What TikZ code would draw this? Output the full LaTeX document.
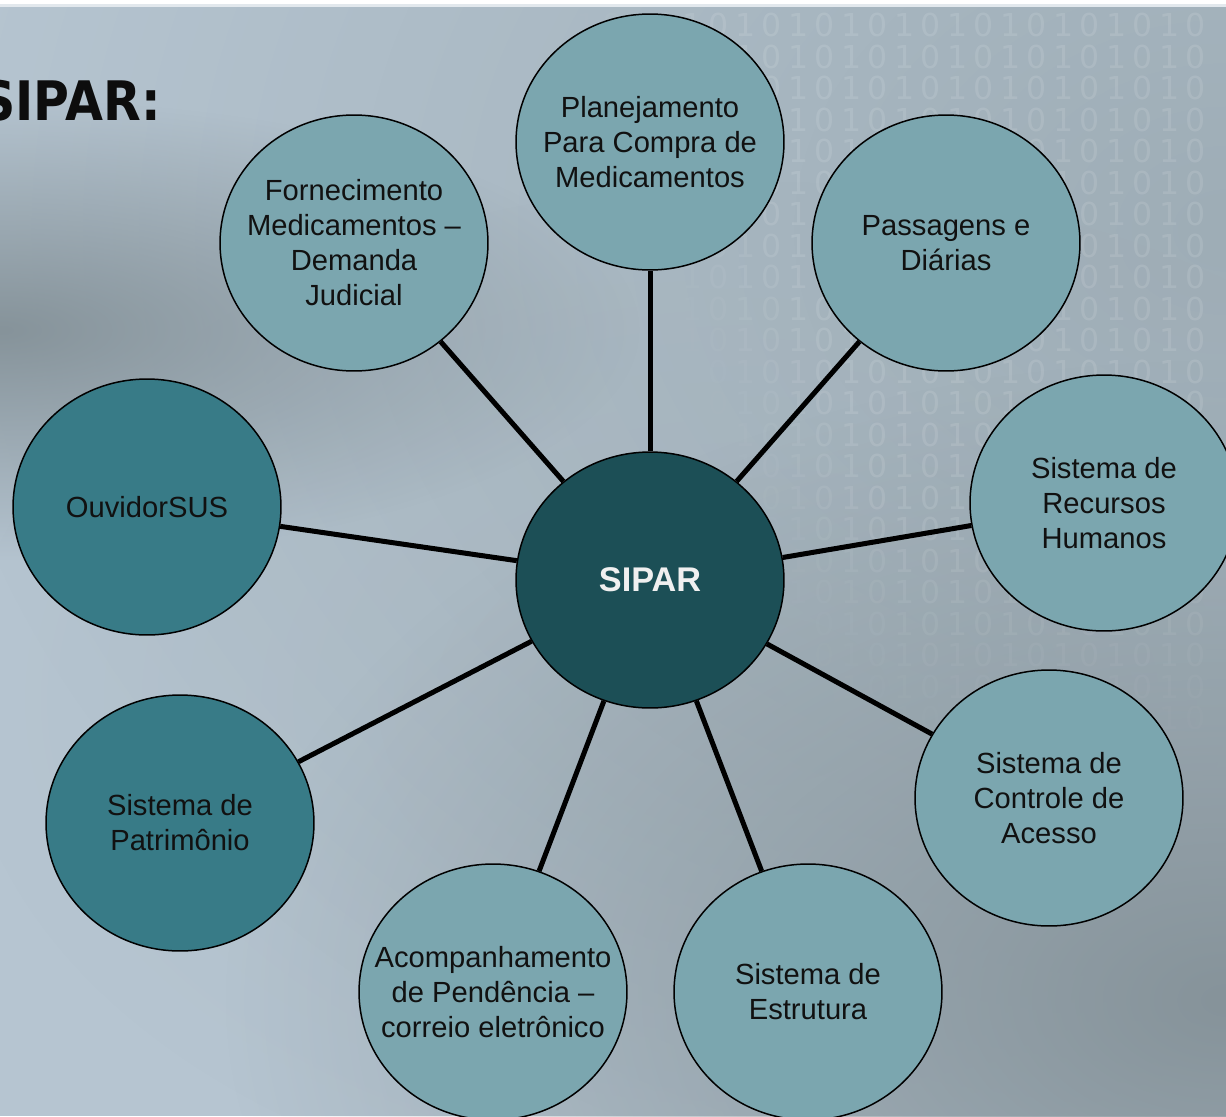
\documentclass[tikz,border=0pt]{standalone}
\usepackage{fontspec}
\setmainfont{Liberation Sans}
\newfontfamily\titlefont{DejaVu Sans}
\usepackage{graphicx}
\usepackage{tikz}
\usetikzlibrary{shapes.geometric,fadings}
\tikzfading[name=softspot, inner color=transparent!0, outer color=transparent!100]
\definecolor{bgbase}{HTML}{B6C5D1}
\definecolor{bgband}{HTML}{A0ADB4}
\definecolor{bgtop}{HTML}{9EADB6}
\definecolor{shadow}{HTML}{86939A}
\definecolor{lightteal}{HTML}{7BA6AF}
\definecolor{midteal}{HTML}{387B87}
\definecolor{deepteal}{HTML}{1C4F56}
\definecolor{textdark}{HTML}{111111}
\newcommand\hitexpr[2]{((\wx-#1)/122)^2+((\wy-#2)/116)^2<1}
\tikzset{
  bubbletext/.style={align=center, inner sep=0pt, text=textdark,
    font=\fontsize{16.6}{19.9}\selectfont},
  bubble/.style={ellipse, draw=black, line width=0.85pt, fill=lightteal,
    minimum width=5.36cm, minimum height=5.12cm, inner sep=0pt,
    label={[bubbletext]center:{#1}}},
  darkbubble/.style={bubble={#1}, fill=midteal},
  hub/.style={bubble={}, fill=deepteal, text=white!94!black,
    font=\fontsize{19.5}{23}\selectfont\bfseries},
  spoke/.style={line width=2.85pt, black},
  bits/.style={text=white, inner sep=0pt, font=\titlefont\fontsize{18}{18}\selectfont},
  slidetitle/.style={anchor=base east, inner sep=0pt, text=black!95,
    font=\titlefont\fontsize{31}{31}\selectfont\bfseries}
}

\begin{document}
\begin{tikzpicture}[x=0.02cm, y=-0.02cm]
  \useasboundingbox (0,0) rectangle (1226,1116);
  \clip (0,0) rectangle (1226,1116);

  % slide background
  \fill[bgbase] (0,0) rectangle (1226,1116);
  \fill[bgtop, path fading=softspot] (1226,230) ellipse [x radius=1300, y radius=1000];
  \fill[bgband, path fading=softspot, opacity=0.4] (760,700) ellipse [x radius=800, y radius=520];
  \fill[shadow, path fading=softspot] (0,330) ellipse [x radius=640, y radius=230];
  \fill[shadow, path fading=softspot] (1226,1000) ellipse [x radius=1000, y radius=640];
  \fill[white] (0,0) rectangle (1226,4);
  \fill[white!60!bgbase] (0,4) rectangle (1226,7);

  % binary watermark
  \foreach \r in {0,...,22}{
    \foreach \c in {0,...,24}{
      \pgfmathsetmacro\wx{560+\c*26.5}
      \pgfmathsetmacro\wy{25+\r*31.5}
      \pgfmathsetmacro\wo{0.11*max(0,min(1,(\wx-560-0.35*\wy)/150))*max(0,min(1,(760-\wy)/260))}
      \pgfmathtruncatemacro\hidden{(\hitexpr{650}{142}) || (\hitexpr{946}{243})
        || (\hitexpr{1104}{503}) || (\hitexpr{1049}{798}) || (\hitexpr{650}{580})
        || (\wo<0.005)}
      \pgfmathtruncatemacro\bitval{mod(\c,2)}
      \ifnum\hidden=0
        \node[bits, opacity=\wo] (bit\r-\c) at (\wx,\wy) {\bitval};
      \fi
    }
  }

  \node[slidetitle] (title) at (161,120) {\scalebox{0.9}[1]{SIPAR:}};
  \node[slidetitle, text=black!70] (cut) at (3,692) {\scalebox{0.9}[1]{:}};

  \node[hub] (sipar) at (650,580) {SIPAR};
  \node[bubble={Planejamento\\Para Compra de\\Medicamentos}] (plan) at (650,142) {};
  \node[bubble={Fornecimento\\Medicamentos –\\Demanda\\Judicial}] (forn) at (354,243) {};
  \node[bubble={Passagens e\\Diárias}] (pass) at (946,243) {};
  \node[bubble={Sistema de\\Recursos\\Humanos}] (rh) at (1104,503) {};
  \node[darkbubble={OuvidorSUS}] (ouv) at (147,507) {};
  \node[darkbubble={Sistema de\\Patrimônio}] (patr) at (180,823) {};
  \node[bubble={Sistema de\\Controle de\\Acesso}] (acesso) at (1049,798) {};
  \node[bubble={Acompanhamento\\de Pendência –\\correio eletrônico}] (acomp) at (493,992) {};
  \node[bubble={Sistema de\\Estrutura}] (estr) at (808,992) {};

  \foreach \n in {plan,forn,pass,rh,ouv,patr,acesso,acomp,estr}
    \draw[spoke] (sipar) -- (\n);
\end{tikzpicture}
\end{document}
